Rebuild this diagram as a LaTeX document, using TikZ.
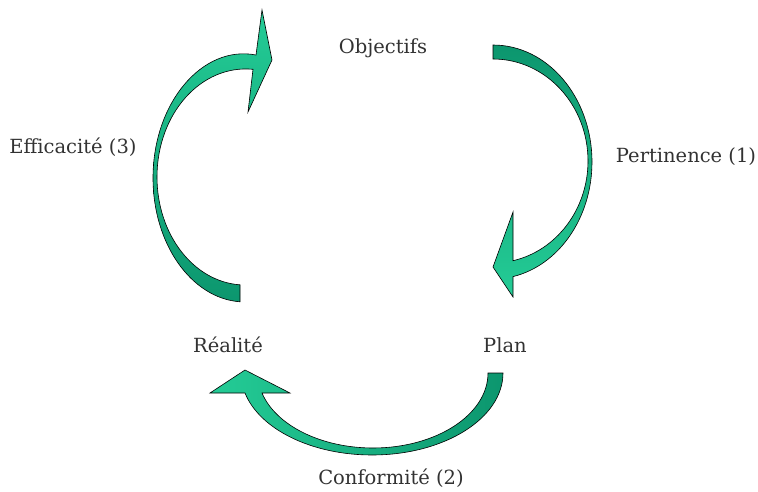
\documentclass[tikz,border=0pt]{standalone}
\usepackage{fontspec}
\setmainfont{DejaVu Serif}
\usetikzlibrary{positioning}

\definecolor{arrowdark}{RGB}{12,150,110}
\definecolor{arrowlight}{RGB}{36,204,150}
\definecolor{textgray}{RGB}{50,50,50}

\begin{document}
\begin{tikzpicture}[x=1pt,y=-1pt,
        lbl/.style={font=\fontsize{19.5}{22}\selectfont, text=textgray, inner sep=0pt},
        bigarrow/.style={draw=black, line width=0.6pt, line join=miter}]
            \useasboundingbox (0,0) rectangle (758,492);

            % labels
            \node[lbl] (obj) at (383,48) {Objectifs};
            \node[lbl] (perti) at (686,157) {Pertinence (1)};
            \node[lbl] (eff) at (73,147) {Efficacité (3)};
            \node[lbl] (real) at (228,345) {Réalité};
            \node[lbl] (plan) at (505,345) {Plan};
            \node[lbl] (conf) at (391,478) {Conformité (2)};

            % Objectifs -> Plan
            \draw[bigarrow, top color=arrowdark, bottom color=arrowlight]
                (493,45) .. controls (547.7,45) and (592,97.4) .. (592,162)
                .. controls (592,217.6) and (559,265.3) .. (513,276.6)
                -- (513,297) -- (493,267) -- (513,212) -- (513,260.7)
                .. controls (556.7,250.6) and (588,209) .. (588,161)
                .. controls (588,104.7) and (545.5,59) .. (493,59) -- cycle;

            % Plan -> Realite
            \draw[bigarrow, left color=arrowlight, right color=arrowdark]
                (503,373) .. controls (503,418.3) and (444.4,455) .. (372,455)
                .. controls (312,455) and (259.6,429.4) .. (245,393)
                -- (210,393) -- (245,370) -- (290,393) -- (262,393)
                .. controls (275.8,425.5) and (321.3,448) .. (373,448)
                .. controls (436.5,448) and (488,414.4) .. (488,373) -- cycle;

            % Realite -> Objectifs
            \draw[bigarrow, top color=arrowlight, bottom color=arrowdark]
                (240,301.8) .. controls (191.2,298.2) and (153,243.8) .. (153,178)
                .. controls (153,102.6) and (202.6,44.6) .. (256,55)
                -- (262,10) -- (272,60) -- (248,112) -- (253,69.3)
                .. controls (200.8,64.3) and (157,114) .. (157,177)
                .. controls (157,234.3) and (193.4,281.6) .. (240,284.8) -- cycle;

        \end{tikzpicture}
\end{document}
